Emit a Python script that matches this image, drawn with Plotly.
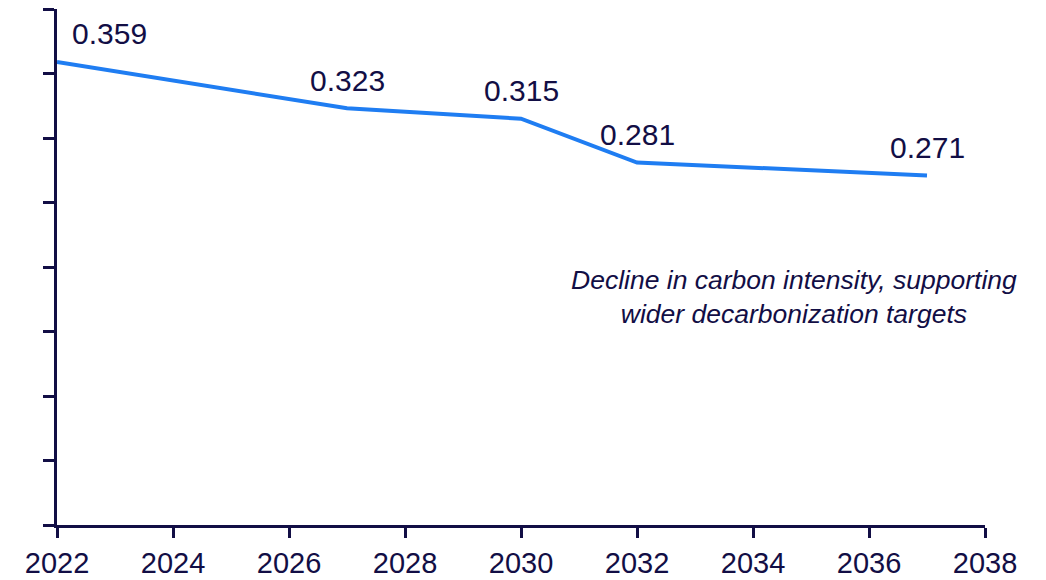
import plotly.graph_objects as go

years = [2022, 2027, 2030, 2032, 2037]
intensity = [0.359, 0.323, 0.315, 0.281, 0.271]
label_text = ["0.359", "0.323", "0.315", "0.281", "0.271"]
x_ticks = [2022, 2024, 2026, 2028, 2030, 2032, 2034, 2036, 2038]
y_ticks = [0, 0.05, 0.1, 0.15, 0.2, 0.25, 0.3, 0.35, 0.4]
note = "<i>Decline in carbon intensity, supporting<br>wider decarbonization targets</i>"

navy = "#120e45"
fig = go.Figure()
fig.add_trace(go.Scatter(x=years, y=intensity, mode="lines",
                         line=dict(color="#1f7df2", width=4), hoverinfo="skip"))

for i, (x, y, t) in enumerate(zip(years, intensity, label_text)):
    fig.add_annotation(x=x, y=y, text=t, showarrow=False,
                       xanchor="center", yanchor="middle",
                       xshift=52 if i == 0 else 0, yshift=28,
                       font=dict(family="Liberation Sans, Arial", size=30, color=navy))

fig.add_annotation(x=2034.7, y=0.177, text=note, showarrow=False, align="center",
                   font=dict(family="Liberation Sans, Arial", size=26.5, color=navy),
                   xanchor="center", yanchor="middle")

fig.update_layout(
    width=1046, height=580, plot_bgcolor="white", paper_bgcolor="white",
    margin=dict(l=57, r=61, t=9, b=55), showlegend=False,
    font=dict(family="Liberation Sans, Arial", color=navy),
)
fig.update_xaxes(range=[2022, 2038], tickvals=x_ticks, showgrid=False, zeroline=False,
                 showline=True, linecolor=navy, linewidth=2.5, ticks="outside",
                 ticklen=10, tickwidth=2.5, tickcolor=navy, automargin=False,
                 tickfont=dict(size=29, color=navy, family="Liberation Sans, Arial"))
fig.update_yaxes(range=[0, 0.4], tickvals=y_ticks, showgrid=False, zeroline=False,
                 showline=True, linecolor=navy, linewidth=2.5, ticks="outside",
                 ticklen=11, tickwidth=2.5, tickcolor=navy, showticklabels=False,
                 automargin=False)

fig.write_html("out.html", config={"displayModeBar": False},
               post_script="document.body.style.margin='0';document.body.style.overflow='hidden';")
